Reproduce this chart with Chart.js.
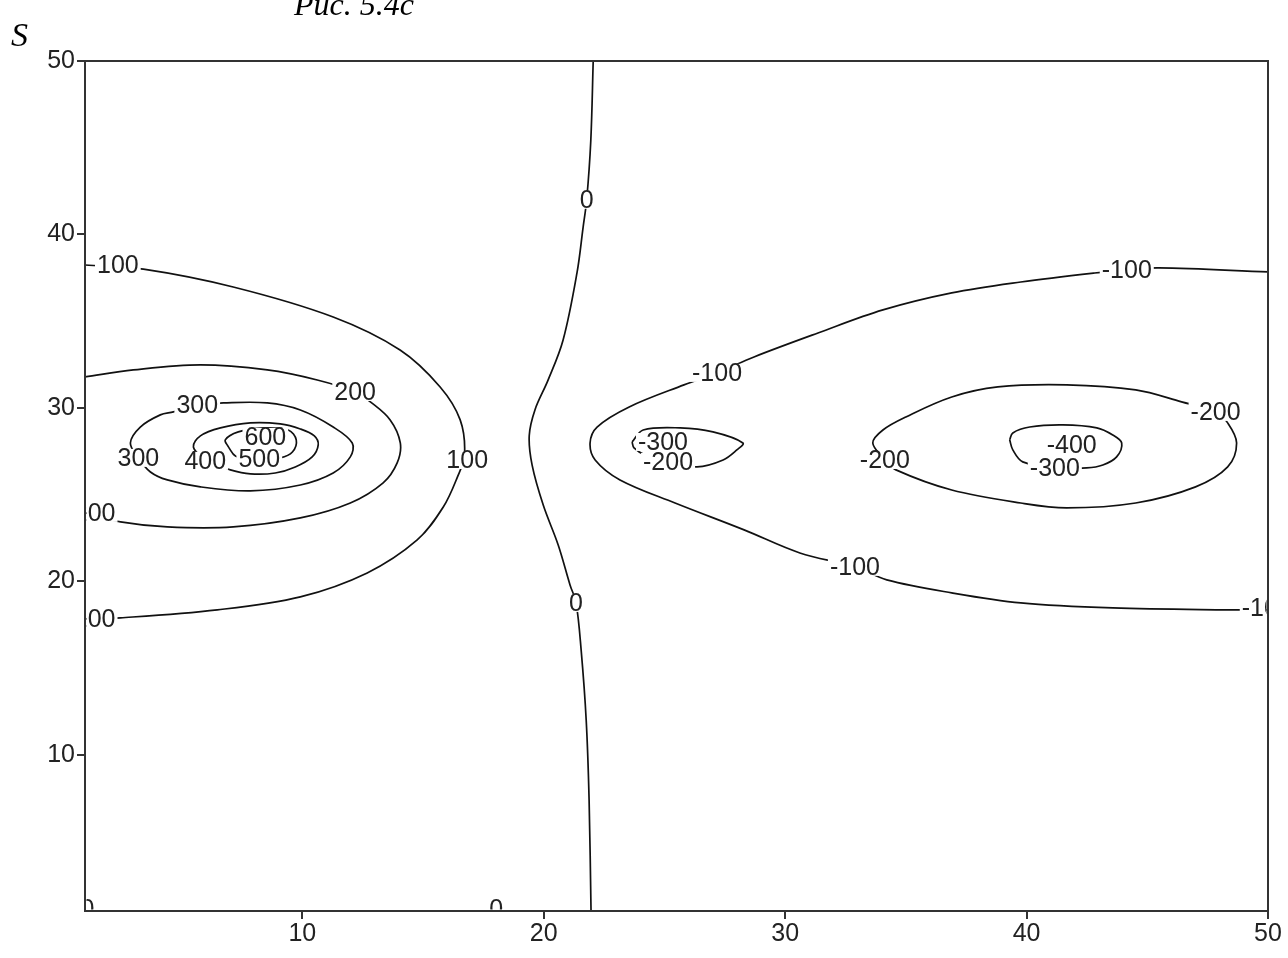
<!DOCTYPE html>
<html>
<head>
<meta charset="utf-8">
<script src="https://cdn.jsdelivr.net/npm/chart.js@4.4.1/dist/chart.umd.min.js"></script>
<style>
  html, body { margin: 0; padding: 0; background: #fff; }
  #wrap { width: 1288px; height: 958px; position: relative; }
</style>
</head>
<body>
<div id="wrap"><canvas id="contours"></canvas></div>
<script>
(() => {
  'use strict'

  // axis ticks
  const xTicks = [10, 20, 30, 40, 50]
  const yTicks = [10, 20, 30, 40, 50]

  // contour lines, [x, y] in data units
  const level0 = [[22.05, 50], [21.95, 45.4], [21.78, 42.0], [21.63, 40.4], [21.38, 37.8], [20.8, 33.9],
    [20.18, 31.6], [19.64, 29.9], [19.4, 28.4], [19.52, 26.7], [19.98, 24.4], [20.6, 22.1], [21.09, 19.8],
    [21.34, 18.76], [21.55, 16.05], [21.76, 12.0], [21.88, 7.4], [21.96, 1]]
  const level100 = [[1.0, 38.24], [3.42, 38.0], [7.14, 36.97], [11.28, 35.24], [14.05, 33.34], [15.71, 31.21],
    [16.54, 29.31], [16.72, 27.3], [16.42, 26.0], [15.84, 24.29], [14.76, 22.39], [12.69, 20.49],
    [9.92, 19.11], [6.48, 18.36], [2.47, 17.9], [1.0, 17.84]]
  const level200 = [[1.0, 31.79], [3.0, 32.19], [5.78, 32.48], [8.55, 32.19], [10.62, 31.61], [12.19, 30.92],
    [12.82, 30.35], [13.64, 29.31], [14.06, 27.98], [13.93, 26.83], [13.35, 25.68], [11.99, 24.52],
    [9.92, 23.66], [7.14, 23.14], [4.41, 23.14], [2.47, 23.43], [1.0, 23.95]]
  const level300 = [[5.65, 30.17], [6.73, 30.29], [8.55, 30.29], [9.92, 29.88], [11.28, 28.9], [12.07, 27.98],
    [11.99, 27.18], [11.28, 26.25], [9.92, 25.56], [7.85, 25.22], [5.78, 25.45], [4.41, 25.85], [3.71, 26.31],
    [3.21, 27.12], [2.88, 27.98], [3.29, 28.9], [4.12, 29.6], [4.66, 29.77], [5.65, 30.17]]
  const level400 = [[5.98, 26.95], [5.49, 27.75], [5.78, 28.39], [6.61, 28.85], [7.85, 29.14], [9.09, 29.08],
    [9.92, 28.79], [10.5, 28.39], [10.66, 27.87], [10.41, 27.18], [9.71, 26.6], [8.88, 26.25], [7.85, 26.2],
    [7.02, 26.43], [5.98, 26.95]]
  const level500 = [[6.94, 27.75], [6.81, 28.16], [7.35, 28.62], [8.39, 28.85], [9.42, 28.73], [9.75, 28.16],
    [9.59, 27.46], [9.09, 27.12], [8.05, 26.95], [7.23, 27.23], [6.94, 27.75]]
  const level600 = [[8.0, 28.35], [8.5, 28.55], [9.0, 28.4], [8.5, 28.15], [8.0, 28.35]]
  const levelM100 = [[50, 37.84], [45.47, 38.07], [44.15, 37.95], [42.82, 37.78], [39.76, 37.26], [36.9, 36.63],
    [34.05, 35.65], [31.36, 34.32], [28.71, 32.94], [27.18, 32.02], [25.81, 31.33], [23.54, 30.06],
    [22.21, 28.9], [21.92, 27.98], [22.13, 27.0], [23.16, 25.85], [25.44, 24.52], [28.3, 22.97],
    [30.61, 21.64], [32.89, 20.84], [34.21, 20.09], [36.9, 19.34], [39.76, 18.76], [43.57, 18.47],
    [48.33, 18.36], [50, 18.36]]
  const levelM200a = [[23.66, 28.04], [24.12, 28.73], [25.65, 28.85], [27.01, 28.62], [28.25, 27.98], [28.0, 27.58],
    [27.43, 27.0], [26.35, 26.6], [25.15, 26.89], [24.2, 27.29], [23.74, 27.7], [23.66, 28.04]]
  const levelM300a = [[24.3, 28.0], [25.0, 28.3], [25.8, 28.1], [25.0, 27.8], [24.3, 28.0]]
  const levelM200b = [[34.13, 27.0], [34.59, 26.43], [36.9, 25.27], [39.76, 24.52], [41.66, 24.24], [44.52, 24.52],
    [47.0, 25.45], [48.33, 26.6], [48.7, 27.98], [48.33, 29.14], [47.83, 29.77], [46.42, 30.35], [44.52, 31.04],
    [41.66, 31.33], [38.81, 31.21], [36.9, 30.63], [35.0, 29.48], [34.05, 28.73], [33.63, 27.98], [34.13, 27.0]]
  const levelM300b = [[39.3, 28.16], [39.43, 28.56], [40.13, 28.9], [41.5, 29.02], [42.91, 28.85], [43.57, 28.44],
    [43.94, 27.98], [43.73, 27.18], [43.16, 26.71], [42.49, 26.54], [41.17, 26.54], [39.84, 26.89],
    [39.43, 27.58], [39.3, 28.16]]
  const levelM400 = [[41.2, 27.9], [41.9, 28.15], [42.6, 27.9], [41.9, 27.6], [41.2, 27.9]]

  // contour labels
  const labelText = ['0', '0', '0', '0', '100', '100', '100', '200', '200', '300', '300', '400', '500', '600',
    '-100', '-100', '-100', '-100', '-200', '-200', '-200', '-300', '-300', '-400']
  const labelX = [21.78, 21.34, 1.1, 18.03, 2.36, 16.83, 1.4, 12.19, 1.4, 5.65, 3.21, 5.98, 8.22, 8.47,
    44.15, 27.18, 32.89, 49.95, 25.15, 34.13, 47.83, 24.94, 41.17, 41.87]
  const labelY = [42.0, 18.76, 1.1, 1.1, 38.24, 27.0, 17.84, 30.92, 23.95, 30.17, 27.12, 26.95, 27.06, 28.33,
    37.95, 32.02, 20.84, 18.47, 26.89, 27.0, 29.77, 28.04, 26.54, 27.87]

  const contours = [level0, level100, level200, level300, level400, level500, level600,
    levelM100, levelM200a, levelM300a, levelM200b, levelM300b, levelM400]

  const tickFont = { family: '"Liberation Sans", Arial, sans-serif', size: 25 }

  const extras = {
    id: 'extras',
    afterDatasetsDraw(chart) {
      const { ctx, chartArea: a, scales: { x, y } } = chart

      // labels sit on the lines, with a white gap behind them
      ctx.save()
      ctx.beginPath()
      ctx.rect(a.left + 1.5, a.top + 1.5, a.right - a.left - 3, a.bottom - a.top - 3)
      ctx.clip()
      ctx.font = '25px "Liberation Sans", Arial, sans-serif'
      ctx.textAlign = 'center'
      ctx.textBaseline = 'middle'
      labelText.forEach((t, i) => {
        const px = x.getPixelForValue(labelX[i])
        const py = y.getPixelForValue(labelY[i])
        const w = ctx.measureText(t).width
        ctx.fillStyle = '#fff'
        ctx.fillRect(px - w / 2 - 2, py - 9, w + 4, 18)
        ctx.fillStyle = '#222'
        ctx.fillText(t, px, py + 1)
      })
      ctx.restore()

      // box round the plot
      ctx.save()
      ctx.strokeStyle = '#333'
      ctx.lineWidth = 2
      ctx.strokeRect(a.left, a.top, a.right - a.left, a.bottom - a.top)
      ctx.restore()

      // captions
      ctx.save()
      ctx.fillStyle = '#000'
      ctx.font = 'italic 32px "Liberation Serif", "Times New Roman", serif'
      ctx.textAlign = 'left'
      ctx.textBaseline = 'alphabetic'
      ctx.fillText('Рис. 5.4с', 294, 15)
      ctx.font = 'italic 34px "Liberation Serif", "Times New Roman", serif'
      ctx.fillText('S', 11, 46)
      ctx.restore()
    }
  }

  const ctx = document.getElementById('contours')

  new Chart(ctx, {
    type: 'scatter',
    data: {
      datasets: contours.map(pts => ({
        data: pts.map(p => ({ x: p[0], y: p[1] })),
        showLine: true,
        pointRadius: 0,
        borderColor: '#111',
        borderWidth: 1.7,
        tension: 0.35,
        fill: false
      }))
    },
    options: {
      responsive: true,
      maintainAspectRatio: false,
      animation: false,
      events: [],
      layout: { padding: { top: 61, right: 20, left: 0, bottom: 0 } },
      plugins: {
        legend: { display: false },
        tooltip: { enabled: false }
      },
      scales: {
        x: {
          type: 'linear',
          min: 1,
          max: 50,
          afterBuildTicks: s => { s.ticks = xTicks.map(v => ({ value: v })) },
          afterFit: s => { s.height = 47 },
          grid: { drawOnChartArea: false, drawTicks: true, tickLength: 8, lineWidth: 2, color: '#333' },
          border: { display: true, color: '#333', width: 2 },
          ticks: { font: tickFont, color: '#222', padding: 0, maxRotation: 0, autoSkip: false }
        },
        y: {
          type: 'linear',
          min: 1,
          max: 50,
          afterBuildTicks: s => { s.ticks = yTicks.map(v => ({ value: v })) },
          afterFit: s => { s.width = 85 },
          grid: { drawOnChartArea: false, drawTicks: true, tickLength: 8, lineWidth: 2, color: '#333' },
          border: { display: true, color: '#333', width: 2 },
          ticks: { font: tickFont, color: '#222', padding: 2, autoSkip: false }
        }
      }
    },
    plugins: [extras]
  })
})()
</script>
</body>
</html>
